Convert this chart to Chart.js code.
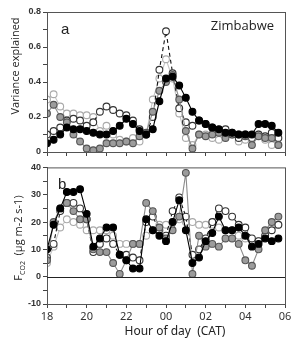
<!DOCTYPE html>
<html>
<head>
<meta charset="utf-8">
<script src="https://cdn.jsdelivr.net/npm/chart.js@4.4.1/dist/chart.umd.min.js"></script>
<style>
  body { margin: 0; background: #fff; }
  #wrap { position: relative; width: 295px; height: 339px; }
  canvas { position: absolute; left: 0; }
</style>
</head>
<body>
<div id="wrap">
  <canvas id="varChart" width="295" height="160" style="top:0"></canvas>
  <canvas id="fluxChart" width="295" height="179" style="top:160px"></canvas>
</div>
<script>
// sample times (every 20 min through the night, CAT)
const times = ["18:00","18:20","18:40","19:00","19:20","19:40","20:00","20:20","20:40",
  "21:00","21:20","21:40","22:00","22:20","22:40","23:00","23:20","23:40",
  "00:00","00:20","00:40","01:00","01:20","01:40","02:00","02:20","02:40",
  "03:00","03:20","03:40","04:00","04:20","04:40","05:00","05:20","05:40"];
const hourTicks = ["18","20","22","00","02","04","06"];
const varTicks = ["0","0.2","0.4","0.6","0.8"];
const fluxTicks = ["-10","0","10","20","30","40"];

// panel a: variance explained
const varBlack = [0.05,0.07,0.10,0.14,0.13,0.13,0.12,0.11,0.10,0.10,0.12,0.15,0.19,0.16,0.12,0.10,0.13,0.29,
  0.42,0.43,0.38,0.31,0.23,0.18,0.16,0.14,0.13,0.11,0.11,0.10,0.10,0.10,0.16,0.16,0.15,0.11];
const varGrey = [0.22,0.27,0.20,0.17,0.10,0.06,0.02,0.01,0.02,0.05,0.05,0.05,0.06,0.05,0.09,0.11,0.23,0.35,
  0.40,0.44,0.30,0.12,0.02,0.10,0.09,0.10,0.11,0.08,0.11,0.10,0.09,0.04,0.09,0.08,0.08,0.04];
const varOpen = [0.10,0.12,0.14,0.18,0.19,0.18,0.15,0.17,0.23,0.26,0.24,0.22,0.21,0.18,0.13,0.10,0.20,0.47,
  0.69,0.45,0.25,0.17,0.15,0.18,0.16,0.14,0.12,0.13,0.10,0.08,0.10,0.08,0.10,0.09,0.11,0.08];
const varLight = [0.30,0.33,0.26,0.22,0.22,0.21,0.21,0.20,0.12,0.15,0.10,0.07,0.06,0.08,0.06,0.10,0.30,0.42,
  0.53,0.42,0.22,0.08,0.04,0.10,0.10,0.08,0.07,0.12,0.10,0.06,0.07,0.09,0.10,0.07,0.04,0.04];

// panel b: CO2 flux
const fluxBlack = [10,19,25,31,31,32,23,11,14,18,18,8,6,3,3,21,17,15,
  13,20,28,17,5,7,13,16,22,17,17,18,15,11,12,14,13,14];
const fluxGrey = [6,20,25,27,24,21,21,10,9,9,5,1,6,12,12,27,24,18,
  14,17,22,38,1,15,11,12,11,14,14,12,6,4,10,17,20,22];
const fluxOpen = [7,12,24,27,27,25,21,9,12,14,12,8,8,7,6,20,22,17,
  15,24,29,22,8,10,14,20,25,24,22,19,18,14,13,15,17,19];
const fluxLight = [5,11,18,21,20,19,17,17,17,17,15,12,12,12,12,15,17,19,
  19,20,21,20,20,19,19,19,18,17,17,15,14,13,13,15,18,19];

const toHour = t => { const [h, m] = t.split(":").map(Number); return (h < 12 ? h + 24 : h) + m / 60; };
const xs = times.map(toHour);
const pts = vals => vals.map((v, i) => ({ x: xs[i], y: v }));

const styles = {
  black: { borderColor: "#000", pointBackgroundColor: "#000", pointBorderColor: "#000" },
  grey:  { borderColor: "#8c8c8c", pointBackgroundColor: "#9c9c9c", pointBorderColor: "#555" },
  open:  { borderColor: "#111", borderDash: [4, 3], pointBackgroundColor: "#fff", pointBorderColor: "#333" },
  light: { borderColor: "#c4c4c4", pointBackgroundColor: "#fff", pointBorderColor: "#aaa" },
};

function sets(black, grey, open, light) {
  const base = { borderWidth: 1.1, pointRadius: 3.4, pointBorderWidth: 1.1, tension: 0, fill: false };
  return [
    Object.assign({ label: "black", data: pts(black) }, base, styles.black),
    Object.assign({ label: "grey", data: pts(grey) }, base, styles.grey),
    Object.assign({ label: "open", data: pts(open) }, base, styles.open),
    Object.assign({ label: "light", data: pts(light) }, base, styles.light),
  ];
}

const tickFont = { family: "Liberation Sans", size: 9, weight: "bold" };

function xAxis(showLabels, height) {
  return {
    type: "linear", min: 18, max: 30,
    afterFit: s => { s.height = height; },
    grid: { drawOnChartArea: false, tickLength: 4, color: "#444" },
    border: { color: "#444" },
    ticks: {
      stepSize: 1, autoSkip: false, maxRotation: 0, padding: 2,
      color: "#333", font: { family: "Noto Sans", size: 11 },
      callback: v => showLabels && (v - 18) % 2 === 0 ? hourTicks[(v - 18) / 2] : "",
    },
  };
}

function yAxis(min, max, step, labels) {
  return {
    min, max,
    afterFit: s => { s.width = 47; },
    grid: { drawOnChartArea: false, tickLength: 4, color: "#444" },
    border: { color: "#444" },
    ticks: {
      stepSize: step, autoSkip: false, padding: 2, color: "#333", font: tickFont,
      callback: (v, i) => i % 2 === 0 ? labels[i / 2] : "",
    },
  };
}

// frame, zero line and free text
const decor = {
  id: "decor",
  afterDraw(chart, args, opts) {
    const { ctx, chartArea: a } = chart;
    ctx.save();
    ctx.strokeStyle = "#555";
    ctx.lineWidth = 1;
    ctx.strokeRect(a.left + 0.5, a.top + 0.5, a.right - a.left, a.bottom - a.top);
    if (opts.zero) {
      const y = Math.round(chart.scales.y.getPixelForValue(0)) + 0.5;
      ctx.strokeStyle = "#222";
      ctx.beginPath(); ctx.moveTo(a.left, y); ctx.lineTo(a.right, y); ctx.stroke();
    }
    ctx.fillStyle = "#222";
    ctx.textBaseline = "alphabetic";
    ctx.font = "15px 'Liberation Sans'";
    ctx.fillText(opts.letter, a.left + opts.lx, a.top + 22);
    if (opts.corner) {
      ctx.font = "13px 'Open Sans'";
      ctx.textAlign = "right";
      ctx.fillText(opts.corner, a.right - 11, a.top + 18);
    }
    if (opts.xTitle) {
      ctx.font = "12px 'Noto Sans'";
      ctx.textAlign = "center";
      ctx.fillText(opts.xTitle, 175, chart.height - 4);
    }
    // rotated y title made of parts (for the subscript)
    const parts = opts.yTitle;
    ctx.translate(opts.yx, opts.yc);
    ctx.rotate(-Math.PI / 2);
    ctx.textAlign = "left";
    let w = 0;
    parts.forEach(p => { ctx.font = p.size + "px 'Open Sans'"; w += ctx.measureText(p.text).width; });
    let x = -w / 2;
    parts.forEach(p => {
      ctx.font = p.size + "px 'Open Sans'";
      ctx.fillText(p.text, x, p.sub ? 3 : 0);
      x += ctx.measureText(p.text).width;
    });
    ctx.restore();
  },
};

new Chart(document.getElementById("varChart"), {
  type: "line",
  data: { datasets: sets(varBlack, varGrey, varOpen, varLight) },
  options: {
    responsive: false, animation: false,
    layout: { padding: { left: 0, right: 10, top: 12, bottom: 0 } },
    plugins: {
      legend: { display: false }, tooltip: { enabled: false },
      decor: { letter: "a", lx: 14, corner: "Zimbabwe", yx: 19, yc: 66,
        yTitle: [{ text: "Variance explained", size: 11 }] },
    },
    scales: { x: xAxis(false, 8), y: yAxis(0, 0.8, 0.1, varTicks) },
  },
  plugins: [decor],
});

new Chart(document.getElementById("fluxChart"), {
  type: "line",
  data: { datasets: sets(fluxBlack, fluxGrey, fluxOpen, fluxLight) },
  options: {
    responsive: false, animation: false,
    layout: { padding: { left: 0, right: 10, top: 7, bottom: 0 } },
    plugins: {
      legend: { display: false }, tooltip: { enabled: false },
      decor: { letter: "b", lx: 11, zero: true, xTitle: "Hour of day  (CAT)", yx: 22, yc: 78,
        yTitle: [{ text: "F", size: 11 }, { text: "CO2", size: 7, sub: true }, { text: "  (µg m-2 s-1)", size: 11 }] },
    },
    scales: { x: xAxis(true, 35), y: yAxis(-10, 40, 5, fluxTicks) },
  },
  plugins: [decor],
});
</script>
</body>
</html>
